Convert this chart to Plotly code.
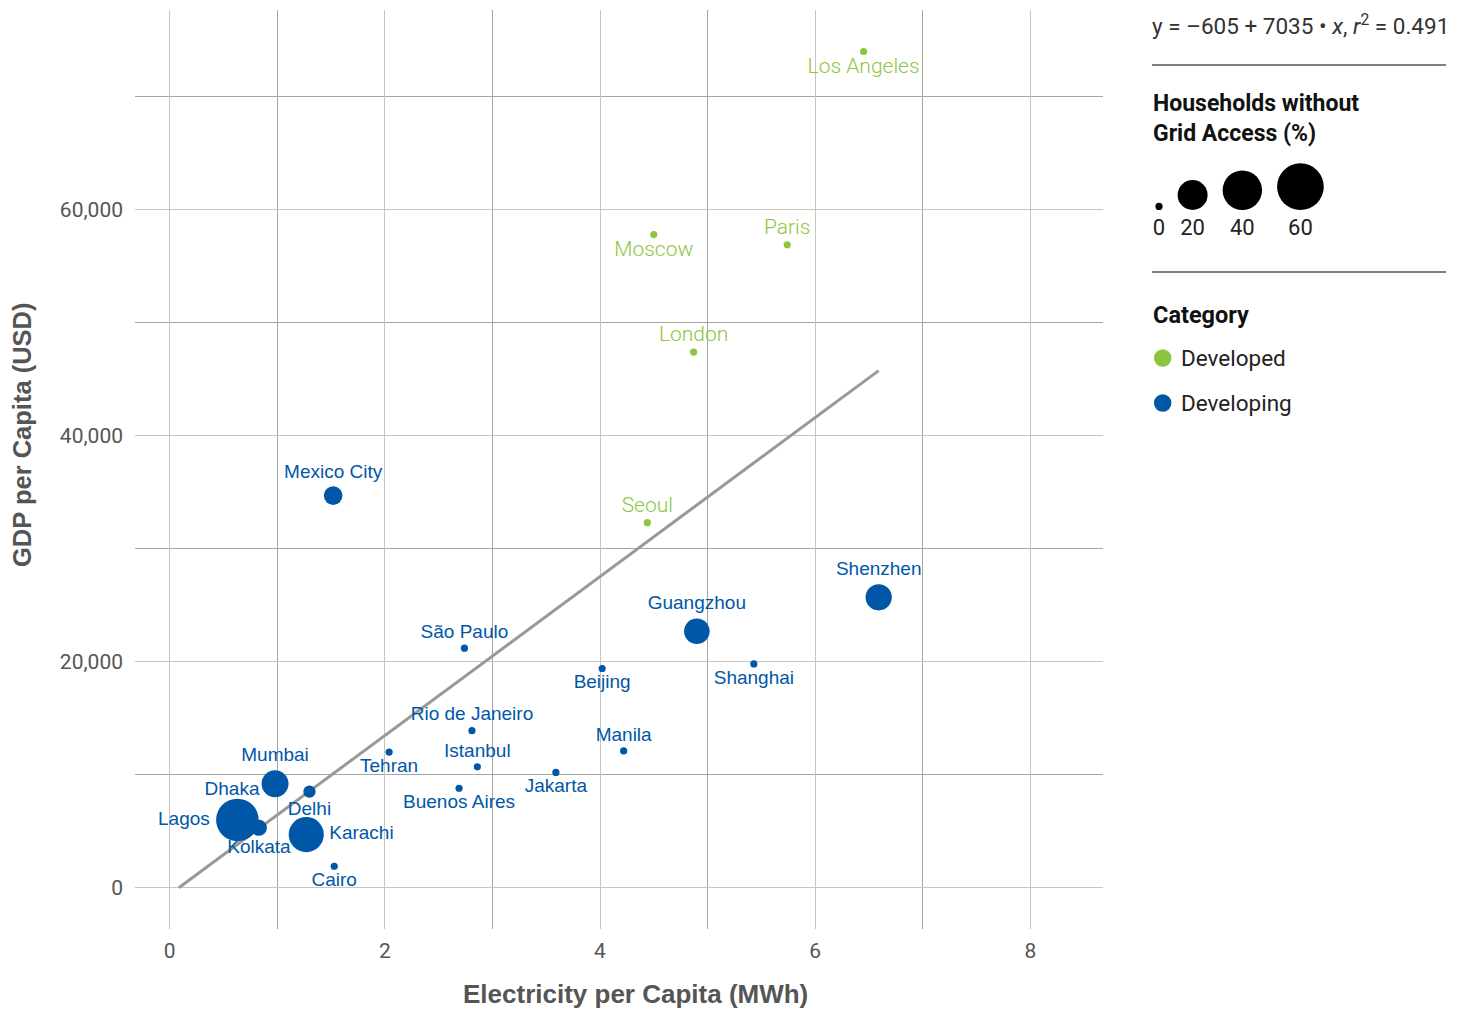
import numpy as np
import plotly.graph_objects as go

# ---------------- data ----------------
cities = ["Los Angeles", "Moscow", "Paris", "London", "Seoul",
          "Mexico City", "Shenzhen", "Guangzhou", "São Paulo", "Beijing",
          "Shanghai", "Rio de Janeiro", "Manila", "Tehran", "Istanbul",
          "Jakarta", "Buenos Aires", "Cairo", "Mumbai", "Delhi",
          "Karachi", "Dhaka", "Lagos", "Kolkata"]
electricity = [6.45, 4.50, 5.74, 4.87, 4.44,
               1.52, 6.59, 4.90, 2.74, 4.02,
               5.43, 2.81, 4.22, 2.04, 2.86,
               3.59, 2.69, 1.53, 0.98, 1.30,
               1.27, 0.58, 0.63, 0.83]
gdp = [74000, 57800, 56900, 47400, 32300,
       34700, 25700, 22700, 21200, 19400,
       19800, 13900, 12100, 12000, 10700,
       10200, 8800, 1900, 9200, 8500,
       4700, 7300, 6000, 5300]
no_grid_access = [0, 0, 0, 0, 0,
                  5, 14, 13, 0, 0,
                  0, 0, 0, 0, 0,
                  0, 0, 0, 15, 1,
                  30, 0, 48, 3]
category = ["Developed", "Developed", "Developed", "Developed", "Developed",
            "Developing", "Developing", "Developing", "Developing", "Developing",
            "Developing", "Developing", "Developing", "Developing", "Developing",
            "Developing", "Developing", "Developing", "Developing", "Developing",
            "Developing", "Developing", "Developing", "Developing"]

INTERCEPT = -605
SLOPE = 7035
R_SQUARED = 0.491

legend_size_values = [0, 20, 40, 60]
categories = ["Developed", "Developing"]

# ---------------- styles ----------------
COLORS = {"Developed": "#8cc63f", "Developing": "#0057a8"}
LABEL_POS = {
    "Los Angeles": "bottom center", "Moscow": "bottom center", "Paris": "top center",
    "London": "top center", "Seoul": "top center", "Mexico City": "top center",
    "Shenzhen": "top center", "Guangzhou": "top center", "São Paulo": "top center",
    "Beijing": "bottom center", "Shanghai": "bottom center", "Rio de Janeiro": "top center",
    "Manila": "top center", "Tehran": "bottom center", "Istanbul": "top center",
    "Jakarta": "bottom center", "Buenos Aires": "bottom center", "Cairo": "bottom center",
    "Mumbai": "top center", "Delhi": "bottom center", "Karachi": "middle right",
    "Dhaka": "top center", "Lagos": "middle left", "Kolkata": "bottom center",
}
TEXT_FONT = {"Developed": dict(family="Roboto", size=21, weight=300),
             "Developing": dict(family="Liberation Sans", size=19)}


def size_px(v):
    return 7.2 + 5.1 * np.sqrt(np.asarray(v, dtype=float))


# page body has an 8px default margin: figure is placed at (8, 8) on screen
OFF = 8
W, H = 1463 - OFF, 1011 - OFF
ML, MR, MT, MB = 127, 17, 2, 82
PW, PH = W - ML - MR, H - MT - MB
SCREEN_BOTTOM = H - MB + OFF  # screen y of plot bottom


def px_x(px):  # screen x -> paper x
    return (px - OFF - ML) / PW


def px_y(py):  # screen y -> paper y
    return (SCREEN_BOTTOM - py) / PH


fig = go.Figure()

# regression line
x0 = -INTERCEPT / SLOPE
x1 = max(electricity)
fig.add_trace(go.Scatter(x=[x0, x1], y=[INTERCEPT + SLOPE * x0, INTERCEPT + SLOPE * x1],
                         mode="lines", line=dict(color="#9a9a92", width=3),
                         hoverinfo="skip", showlegend=False))

for cat in ["Developing", "Developed"]:
    idx = [i for i, c in enumerate(category) if c == cat]
    fig.add_trace(go.Scatter(
        x=[electricity[i] for i in idx],
        y=[gdp[i] for i in idx],
        mode="markers+text",
        text=[cities[i] for i in idx],
        textposition=[LABEL_POS[cities[i]] for i in idx],
        textfont=dict(color=COLORS[cat], **TEXT_FONT[cat]),
        marker=dict(size=size_px([no_grid_access[i] for i in idx]),
                    color=COLORS[cat], line=dict(width=0), opacity=1),
        name=cat, showlegend=False, hoverinfo="text"))

# ---------------- side legend (screen-pixel axes) ----------------
LEG_LEFT, LEG_RIGHT = 1152, 1446

sizes = size_px(legend_size_values)
centers = []
c = 1159.0
for i, d in enumerate(sizes):
    if i > 0:
        c = c + sizes[i - 1] / 2 + d / 2 + 15
    centers.append(c)
fig.add_trace(go.Scatter(x=centers, y=[SCREEN_BOTTOM - 210 + d / 2 for d in sizes],
                         mode="markers",
                         marker=dict(size=list(sizes), color="#000000", opacity=1,
                                     line=dict(width=0)),
                         xaxis="x2", yaxis="y2", showlegend=False, hoverinfo="skip"))
fig.add_trace(go.Scatter(x=centers, y=[SCREEN_BOTTOM - 229] * len(centers), mode="text",
                         text=[str(v) for v in legend_size_values],
                         textfont=dict(family="Roboto", size=22, color="#222222"),
                         xaxis="x2", yaxis="y2", showlegend=False, hoverinfo="skip"))

cat_rows = [358, 403]
fig.add_trace(go.Scatter(x=[1162.7] * len(categories), y=[SCREEN_BOTTOM - r for r in cat_rows],
                         mode="markers",
                         marker=dict(size=17.5, color=[COLORS[c] for c in categories], opacity=1),
                         xaxis="x2", yaxis="y2", showlegend=False, hoverinfo="skip"))

annotations = []
for cat, r in zip(categories, cat_rows):
    annotations.append(dict(x=1179, y=SCREEN_BOTTOM - r, xref="x2", yref="y2", text=cat,
                            showarrow=False, xanchor="left", yanchor="middle",
                            font=dict(family="Roboto", size=22.5, color="#222222")))

annotations += [
    dict(x=px_x(1150), y=px_y(25), xref="paper", yref="paper",
         text=f"y = –{abs(INTERCEPT)} + {SLOPE} • <i>x</i>, <i>r</i><sup>2</sup> = {R_SQUARED}",
         showarrow=False, xanchor="left", yanchor="middle",
         font=dict(family="Roboto", size=22.5, color="#333333")),
    dict(x=px_x(1151), y=px_y(118.5), xref="paper", yref="paper",
         text="<b>Households without<br>Grid Access (%)</b>",
         showarrow=False, xanchor="left", yanchor="middle", align="left",
         font=dict(family="Roboto", size=23, color="#111111")),
    dict(x=px_x(1151), y=px_y(315), xref="paper", yref="paper",
         text="<b>Category</b>", showarrow=False, xanchor="left", yanchor="middle",
         font=dict(family="Roboto", size=23.5, color="#111111")),
    dict(x=px_x(635), y=px_y(994), xref="paper", yref="paper",
         text="<b>Electricity per Capita (MWh)</b>", showarrow=False,
         xanchor="center", yanchor="middle",
         font=dict(family="Liberation Sans", size=26, color="#555555")),
    dict(x=px_x(22), y=px_y(435), xref="paper", yref="paper",
         text="<b>GDP per Capita (USD)</b>", showarrow=False, textangle=-90,
         xanchor="center", yanchor="middle",
         font=dict(family="Liberation Sans", size=25.5, color="#555555")),
]

shapes = [dict(type="line", xref="paper", yref="paper", x0=px_x(LEG_LEFT), x1=px_x(LEG_RIGHT),
               y0=px_y(py), y1=px_y(py), line=dict(color="#555555", width=1.3))
          for py in (65, 272)]

x_left = -0.3216
x_right = 8.6747
y_bottom = -3655
y_top = 77673

fig.update_layout(
    width=W, height=H,
    margin=dict(l=ML, r=MR, t=MT, b=MB, pad=0),
    plot_bgcolor="white", paper_bgcolor="white",
    showlegend=False,
    annotations=annotations, shapes=shapes,
    xaxis=dict(domain=[0, px_x(1103)], range=[x_left, x_right],
               tick0=0, dtick=2, showgrid=True, gridcolor="#c6c6be", gridwidth=1.3,
               minor=dict(dtick=1, showgrid=True, gridcolor="#a6a69e", gridwidth=1.3),
               zeroline=False, showline=False, ticks="",
               tickfont=dict(family="Roboto", size=21, color="#555555"),
               ticklabelstandoff=7),
    yaxis=dict(domain=[0, 1], range=[y_bottom, y_top],
               tick0=0, dtick=20000, tickformat=",", showgrid=True,
               gridcolor="#c6c6be", gridwidth=1.3,
               minor=dict(dtick=10000, showgrid=True, gridcolor="#a6a69e", gridwidth=1.3),
               zeroline=False, showline=False, ticks="",
               tickfont=dict(family="Roboto", size=21, color="#555555"),
               ticklabelstandoff=11),
    xaxis2=dict(domain=[px_x(LEG_LEFT), 1], range=[LEG_LEFT, LEG_RIGHT], visible=False,
                anchor="y2", fixedrange=True),
    yaxis2=dict(domain=[0, 1], range=[0, PH], visible=False, anchor="x2", fixedrange=True),
)

fig.write_html("out.html")
